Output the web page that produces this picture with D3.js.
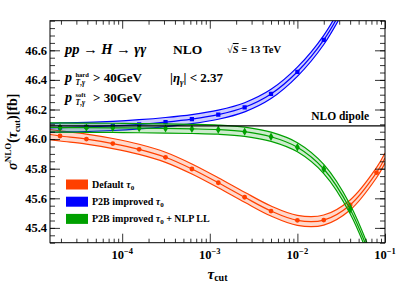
<!DOCTYPE html>
<html>
<head>
<meta charset="utf-8">
<script src="https://cdn.jsdelivr.net/npm/d3@7"></script>
<style>
body { margin: 0; background: #fff; }
text { font-family: "Liberation Serif", serif; font-weight: bold; fill: #000; }
</style>
</head>
<body>
<svg id="chart" width="399" height="285"></svg>
<script>
// tau_cut values where the points were computed
const tauPoints = [1.953e-5, 3.906e-5, 7.8125e-5, 1.5625e-4, 3.125e-4, 6.25e-4, 1.25e-3, 2.5e-3, 5e-3, 1e-2, 2e-2, 4e-2, 8e-2];
const tauLeft = 1.5e-5;
const tauRight = 0.1;

// sigma^NLO(tau_cut) in fb (null = not computed)
const defaultTau0 = [46.021, 46.000, 45.970, 45.931, 45.877, 45.798, 45.705, 45.607, 45.514, 45.451, 45.453, 45.555, 45.773];
const p2bTau0 = [46.078, 46.082, 46.089, 46.100, 46.115, 46.135, 46.165, 46.215, 46.305, 46.455, 46.670, 46.980, null];
const p2bNlpLL = [46.078, 46.077, 46.076, 46.074, 46.072, 46.069, 46.064, 46.050, 46.016, 45.945, 45.798, 45.526, 45.100];

// fit values at the plot edges
const defaultEdges = [46.031, 45.872];
const p2bEdges = [46.076, null];
const nlpEdges = [46.079, null];

// half width of the fit uncertainty band
const defaultErr = 0.034;
const p2bErr = 0.031;
const nlpErr = 0.031;

const nloDipole = 46.09;

const yTicks = [45.4, 45.6, 45.8, 46.0, 46.2, 46.4, 46.6];
const xTicks = [1e-4, 1e-3, 1e-2, 1e-1];
const xTickExps = ['\u22124', '\u22123', '\u22122', '\u22121'];

const legendNames = ['Default', 'P2B improved', 'P2B improved'];

let series = [
	{ name: 'default', color: '#ff4000', values: defaultTau0, edges: defaultEdges, err: defaultErr, symbol: d3.symbolCircle, size: 18 },
	{ name: 'p2b', color: '#0000ff', values: p2bTau0, edges: p2bEdges, err: p2bErr, symbol: d3.symbolSquare, size: 18 },
	{ name: 'nlp', color: '#00a000', values: p2bNlpLL, edges: nlpEdges, err: nlpErr, symbol: d3.symbolDiamond, size: 20 }
];

let svg = d3.select('#chart');
let margin = { top: 20.7, right: 14, bottom: 42.3, left: 50 };
let width = +svg.attr('width') - margin.left - margin.right;
let height = +svg.attr('height') - margin.top - margin.bottom;

let x = d3.scaleLog().domain([tauLeft, tauRight]).range([0, width]);
let y = d3.scaleLinear().domain([45.3, 46.8]).range([height, 0]);

let g = svg.append('g').attr('transform', 'translate(' + margin.left + ',' + margin.top + ')');

svg.append('clipPath').attr('id', 'plot-clip')
	.append('rect').attr('width', width).attr('height', height);

let plot = g.append('g').attr('clip-path', 'url(#plot-clip)');

let line = d3.line()
	.x((d) => x(d[0]))
	.y((d) => y(d[1]))
	.curve(d3.curveCatmullRom.alpha(0.5));

let area = d3.area()
	.x((d) => x(d[0]))
	.y0((d) => y(d[1] - d[2]))
	.y1((d) => y(d[1] + d[2]))
	.curve(d3.curveCatmullRom.alpha(0.5));

series.forEach((s) => {
	let nodes = [[tauLeft, s.edges[0]]];
	s.values.forEach((v, i) => { if (v !== null) nodes.push([tauPoints[i], v]); });
	if (s.edges[1] !== null) nodes.push([tauRight, s.edges[1]]);
	let band = nodes.map((d) => [d[0], d[1], s.err]);

	plot.append('path')
		.attr('d', area(band))
		.attr('fill', s.color)
		.attr('fill-opacity', 0.2);

	[-1, 0, 1].forEach((k) => {
		plot.append('path')
			.attr('d', line(nodes.map((d) => [d[0], d[1] + k * s.err])))
			.attr('fill', 'none')
			.attr('stroke', s.color)
			.attr('stroke-width', 1.2);
	});

	plot.selectAll('.pt-' + s.name)
		.data(s.values.map((v, i) => [tauPoints[i], v]).filter((d) => d[1] !== null))
		.enter().append('path')
		.attr('class', 'pt-' + s.name)
		.attr('transform', (d) => 'translate(' + x(d[0]) + ',' + y(d[1]) + ')')
		.attr('d', d3.symbol().type(s.symbol).size(s.size))
		.attr('fill', s.color);
});

// NLO dipole reference
plot.append('line')
	.attr('x1', 0).attr('x2', width)
	.attr('y1', y(nloDipole)).attr('y2', y(nloDipole))
	.attr('stroke', '#000').attr('stroke-width', 1.2);

// axes with inward ticks on all four sides
let xMinor = x.ticks().filter((t) => Math.abs(Math.log10(t) - Math.round(Math.log10(t))) > 1e-6);
let yMinor = y.ticks(30);

let axisStyle = (sel) => {
	sel.select('.domain').remove();
	sel.selectAll('line').attr('stroke', '#000').attr('stroke-width', 0.8);
};

g.append('g').attr('transform', 'translate(0,' + height + ')')
	.call(d3.axisBottom(x).tickValues(xMinor).tickSize(-4).tickFormat('')).call(axisStyle);
g.append('g').attr('transform', 'translate(0,' + height + ')')
	.call(d3.axisBottom(x).tickValues(xTicks).tickSize(-9).tickFormat('')).call(axisStyle);
g.append('g')
	.call(d3.axisTop(x).tickValues(xMinor).tickSize(-4).tickFormat('')).call(axisStyle);
g.append('g')
	.call(d3.axisTop(x).tickValues(xTicks).tickSize(-8).tickFormat('')).call(axisStyle);

g.append('g')
	.call(d3.axisLeft(y).tickValues(yMinor).tickSize(-5).tickFormat('')).call(axisStyle);
g.append('g')
	.call(d3.axisLeft(y).tickValues(yTicks).tickSize(-10).tickFormat('')).call(axisStyle);
g.append('g').attr('transform', 'translate(' + width + ',0)')
	.call(d3.axisRight(y).tickValues(yMinor).tickSize(-5).tickFormat('')).call(axisStyle);
g.append('g').attr('transform', 'translate(' + width + ',0)')
	.call(d3.axisRight(y).tickValues(yTicks).tickSize(-10).tickFormat('')).call(axisStyle);

g.append('rect')
	.attr('width', width).attr('height', height)
	.attr('fill', 'none').attr('stroke', '#000').attr('stroke-width', 1);

// tick labels
g.selectAll('.ylab')
	.data(yTicks)
	.enter().append('text')
	.attr('class', 'ylab')
	.attr('x', -3)
	.attr('y', (d) => y(d))
	.attr('dy', '0.35em')
	.attr('text-anchor', 'end')
	.style('font-size', '12.5px')
	.text((d) => d.toFixed(1));

xTicks.forEach((t, i) => {
	let lab = g.append('text')
		.attr('x', x(t))
		.attr('y', height + 16.5)
		.attr('text-anchor', 'middle')
		.style('font-size', '12.5px');
	lab.append('tspan').text('10');
	lab.append('tspan').attr('dy', -5).style('font-size', '8.5px').text(xTickExps[i]);
});

// axis titles
let xt = g.append('text')
	.attr('x', width / 2)
	.attr('y', height + 36)
	.attr('text-anchor', 'middle')
	.style('font-size', '15px');
xt.append('tspan').style('font-style', 'italic').text('\u03c4');
xt.append('tspan').attr('dy', 2.5).style('font-size', '10px').text('cut');

let yt = svg.append('text')
	.attr('transform', 'translate(17,' + (margin.top + height / 2) + ') rotate(-90)')
	.attr('text-anchor', 'middle')
	.style('font-size', '14px');
yt.append('tspan').style('font-style', 'italic').text('\u03c3');
yt.append('tspan').attr('dy', -6).style('font-size', '9px').text('NLO');
yt.append('tspan').attr('dy', 6).text('(');
yt.append('tspan').style('font-style', 'italic').text('\u03c4');
yt.append('tspan').attr('dy', 3).style('font-size', '9px').text('cut');
yt.append('tspan').attr('dy', -3).text(')[fb]');

// annotations
let proc = svg.append('text').attr('x', 65).attr('y', 54).style('font-size', '14.5px');
proc.append('tspan').style('font-style', 'italic').text('pp');
proc.append('tspan').text(' \u2192 ');
proc.append('tspan').style('font-style', 'italic').text('H');
proc.append('tspan').text(' \u2192 ');
proc.append('tspan').style('font-style', 'italic').text('\u03b3\u03b3');

svg.append('text').attr('x', 173).attr('y', 54).style('font-size', '13.5px').text('NLO');

let rs = svg.append('text').attr('x', 227).attr('y', 53).style('font-size', '10.5px');
rs.append('tspan').text('\u221a');
rs.append('tspan').style('font-style', 'italic').style('text-decoration', 'overline').text('S');
rs.append('tspan').text(' = 13 TeV');

let cut = (yb, sup, rest) => {
	svg.append('text').attr('x', 65).attr('y', yb).style('font-size', '14px').style('font-style', 'italic').text('p');
	svg.append('text').attr('x', 75.5).attr('y', yb - 5.5).style('font-size', '6.5px').text(sup);
	let sub = svg.append('text').attr('x', 75.5).attr('y', yb + 3).style('font-size', '7.5px');
	sub.append('tspan').style('font-style', 'italic').text('T');
	sub.append('tspan').text(',');
	sub.append('tspan').style('font-style', 'italic').text('\u03b3');
	svg.append('text').attr('x', 93).attr('y', yb).style('font-size', '13px').text(rest);
};
cut(82, 'hard', '> 40GeV');
cut(102, 'soft', '> 30GeV');

let eta = svg.append('text').attr('x', 170).attr('y', 82).style('font-size', '13px');
eta.append('tspan').text('|');
eta.append('tspan').style('font-style', 'italic').text('\u03b7');
eta.append('tspan').attr('dy', 3).style('font-size', '8.5px').style('font-style', 'italic').text('\u03b3');
eta.append('tspan').attr('dy', -3).text('| < 2.37');

svg.append('text')
	.attr('x', 369).attr('y', 119.5)
	.attr('text-anchor', 'end')
	.style('font-size', '11.5px')
	.text('NLO dipole');

// legend
series.forEach((s, i) => {
	let ly = 179.5 + i * 17.2;
	svg.append('rect')
		.attr('x', 66).attr('y', ly)
		.attr('width', 22).attr('height', 10)
		.attr('fill', s.color);
	let t = svg.append('text').attr('x', 92).attr('y', ly + 8).style('font-size', '10px');
	t.append('tspan').text(legendNames[i] + ' ');
	t.append('tspan').style('font-style', 'italic').text('\u03c4');
	t.append('tspan').attr('dy', 2.5).style('font-size', '7px').text('0');
	if (i === 2) t.append('tspan').attr('dy', -2.5).text(' + NLP LL');
});
</script>
</body>
</html>
